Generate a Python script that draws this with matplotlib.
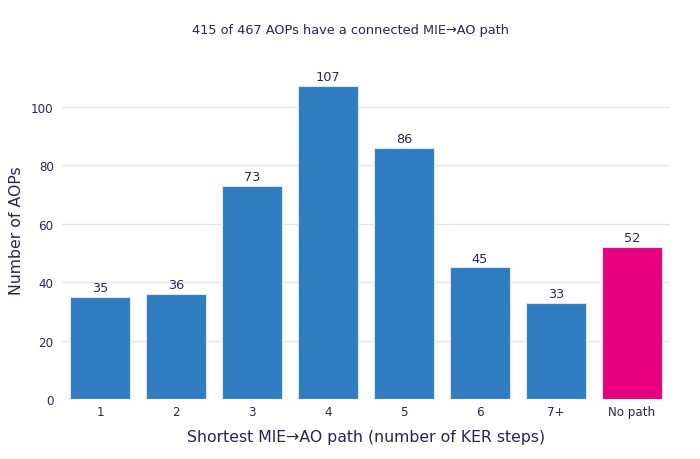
import matplotlib.pyplot as plt
import numpy as np

categories = ["1", "2", "3", "4", "5", "6", "7+", "No path"]
counts = [35, 36, 73, 107, 86, 45, 33, 52]
bar_colors = ["#307cc0"] * 7 + ["#e6007e"]

title = "415 of 467 AOPs have a connected MIE\u2192AO path"
xlabel = "Shortest MIE\u2192AO path (number of KER steps)"
ylabel = "Number of AOPs"

text_col = "#2a2557"

plt.rcParams["font.family"] = ["DejaVu Sans"]

fig = plt.figure(figsize=(7, 4.6), dpi=100)
ax = fig.add_axes([62 / 700, 60 / 460, 608 / 700, 338 / 460])

x = np.arange(len(categories))
bars = ax.bar(x, counts, width=0.79, color=bar_colors, edgecolor="#dbe6f3",
              linewidth=0.8, zorder=3)
for b, v in zip(bars, counts):
    ax.text(b.get_x() + b.get_width() / 2, v + 1.0, str(v), ha="center",
            va="bottom", fontsize=9.3, color=text_col)

ax.set_xlim(-0.5, len(categories) - 0.5)
ax.set_ylim(0, 115.6)
ax.set_yticks([0, 20, 40, 60, 80, 100])
ax.set_xticks(x)
ax.set_xticklabels(categories)
ax.tick_params(axis="both", length=0, labelsize=8.6, colors=text_col)
ax.tick_params(axis="y", pad=6)
ax.tick_params(axis="x", pad=4)
ax.grid(axis="y", color="#e6e6e6", linewidth=1, zorder=0)
for s in ax.spines.values():
    s.set_visible(False)

ax.set_xlabel(xlabel, fontsize=11.3, color=text_col, labelpad=8)
ax.set_ylabel(ylabel, fontsize=11.3, color=text_col, labelpad=5)
fig.text(0.5, 1 - 31 / 460, title, ha="center", va="center", fontsize=9.3,
         color=text_col)

fig.savefig("out.png", dpi=100, facecolor="white")
